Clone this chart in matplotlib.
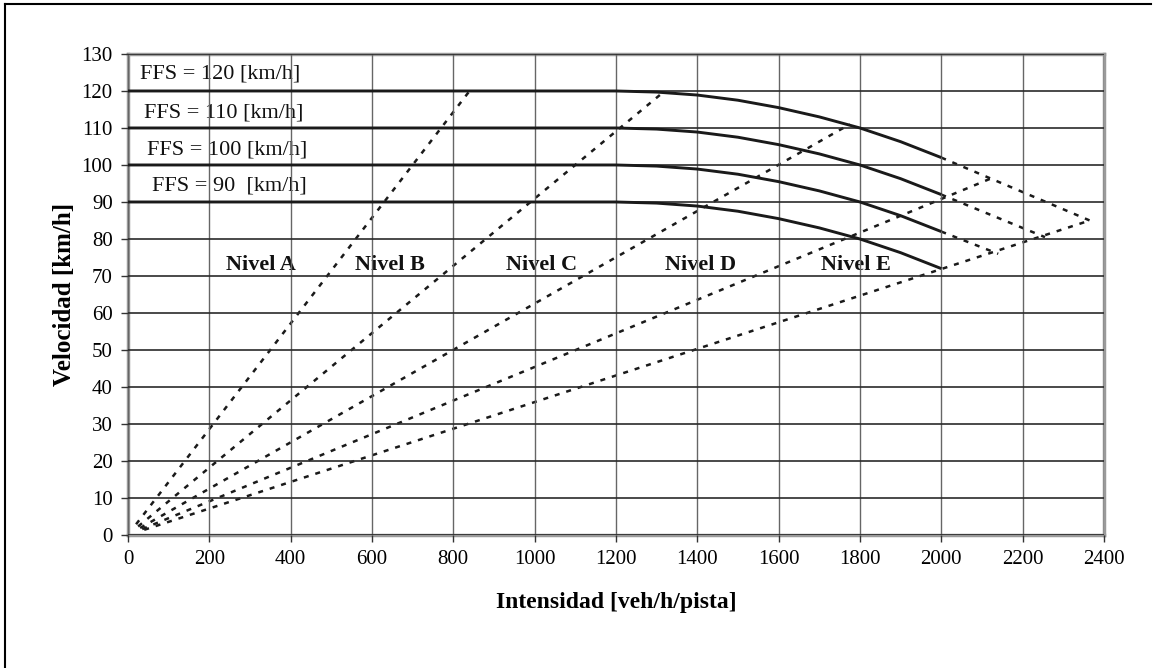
import matplotlib
matplotlib.use('Agg')
import matplotlib.pyplot as plt
from matplotlib.lines import Line2D

plt.rcParams['font.family'] = ['Liberation Serif', 'DejaVu Serif']

# curvas velocidad-intensidad
flow_pts = [0, 1200, 1300, 1400, 1500, 1600, 1700, 1800, 1900, 2000]
v120 = [120, 120, 119.7, 118.9, 117.5, 115.5, 113.0, 110.0, 106.3, 102.0]
v110 = [110, 110, 109.7, 108.9, 107.5, 105.5, 103.0, 100.0, 96.3, 92.0]
v100 = [100, 100, 99.7, 98.9, 97.5, 95.5, 93.0, 90.0, 86.3, 82.0]
v90 = [90, 90, 89.7, 88.9, 87.5, 85.5, 83.0, 80.0, 76.3, 72.0]
ffs_labels = ['FFS = 120 [km/h]', 'FFS = 110 [km/h]', 'FFS = 100 [km/h]', 'FFS = 90  [km/h]']

# tramos punteados hasta capacidad
cap_flow = [[2000, 2365], [2000, 2255], [2000, 2140]]
cap_speed = [[102.0, 85.0], [92.0, 80.5], [82.0, 76.0]]

# lineas de densidad (limites de nivel de servicio)
dens_flow = [[20, 840], [25, 1320], [30, 1775], [35, 2132], [40, 2365]]
dens_speed = [[2.9, 120], [2.3, 120], [1.9, 111], [1.6, 96.8], [1.4, 85.0]]
niveles = ['Nivel A', 'Nivel B', 'Nivel C', 'Nivel D', 'Nivel E']

fig = plt.figure(figsize=(11.59, 6.68), dpi=100)
ax = fig.add_axes([0.1104, 0.1991, 0.8421, 0.7201])

dark = '#1a1a1a'
for vs in [v120, v110, v100, v90]:
    ax.plot(flow_pts, vs, color=dark, lw=2.1, zorder=3, solid_capstyle='butt')

for fx, sy in zip(cap_flow, cap_speed):
    ax.plot(fx, sy, color=dark, lw=1.8, linestyle=(0, (2.0, 2.8)), zorder=1)
for fx, sy in zip(dens_flow, dens_speed):
    ax.plot(fx, sy, color=dark, lw=1.8, linestyle=(0, (2.0, 2.8)), zorder=1)

# etiquetas FFS
ffs_pos = [(30, 124.5), (40, 114.0), (48, 104.0), (58, 94.3)]
for lab, (x, y) in zip(ffs_labels, ffs_pos):
    ax.text(x, y, lab, fontsize=16, ha='left', va='center', zorder=1.5, color='#111111')

# etiquetas de nivel
nivel_x = [327, 645, 1017, 1407, 1790]
for lab, x in zip(niveles, nivel_x):
    ax.text(x, 70.4, lab, fontsize=16, fontweight='bold', ha='center', va='bottom',
            zorder=1.5, color='#111111',
            bbox=dict(facecolor='white', edgecolor='none', pad=1.5))

ax.set_xlim(0, 2400)
ax.set_ylim(0, 130)
ax.set_xticks(range(0, 2401, 200))
ax.set_yticks(range(0, 131, 10))
ax.tick_params(labelsize=15, length=5, width=1, color='#333333', pad=6)
ax.set_axisbelow(False)
ax.yaxis.grid(True, color='#2a2a2a', lw=1.2)
ax.xaxis.grid(True, color='#666666', lw=1.0)
for s in ax.spines.values():
    s.set_color('#9a9a9a')
    s.set_linewidth(2.5)

ax.set_xlabel('Intensidad [veh/h/pista]', fontsize=17, fontweight='bold', labelpad=16)
ax.set_ylabel('Velocidad [km/h]', fontsize=18, fontweight='bold', labelpad=4)

# marco exterior
fig.add_artist(Line2D([0.004, 0.004], [0, 0.994], transform=fig.transFigure, color='black', lw=1.5))
fig.add_artist(Line2D([0.004, 0.993], [0.994, 0.994], transform=fig.transFigure, color='black', lw=1.5))

plt.savefig('out.png', dpi=100)
plt.close()
